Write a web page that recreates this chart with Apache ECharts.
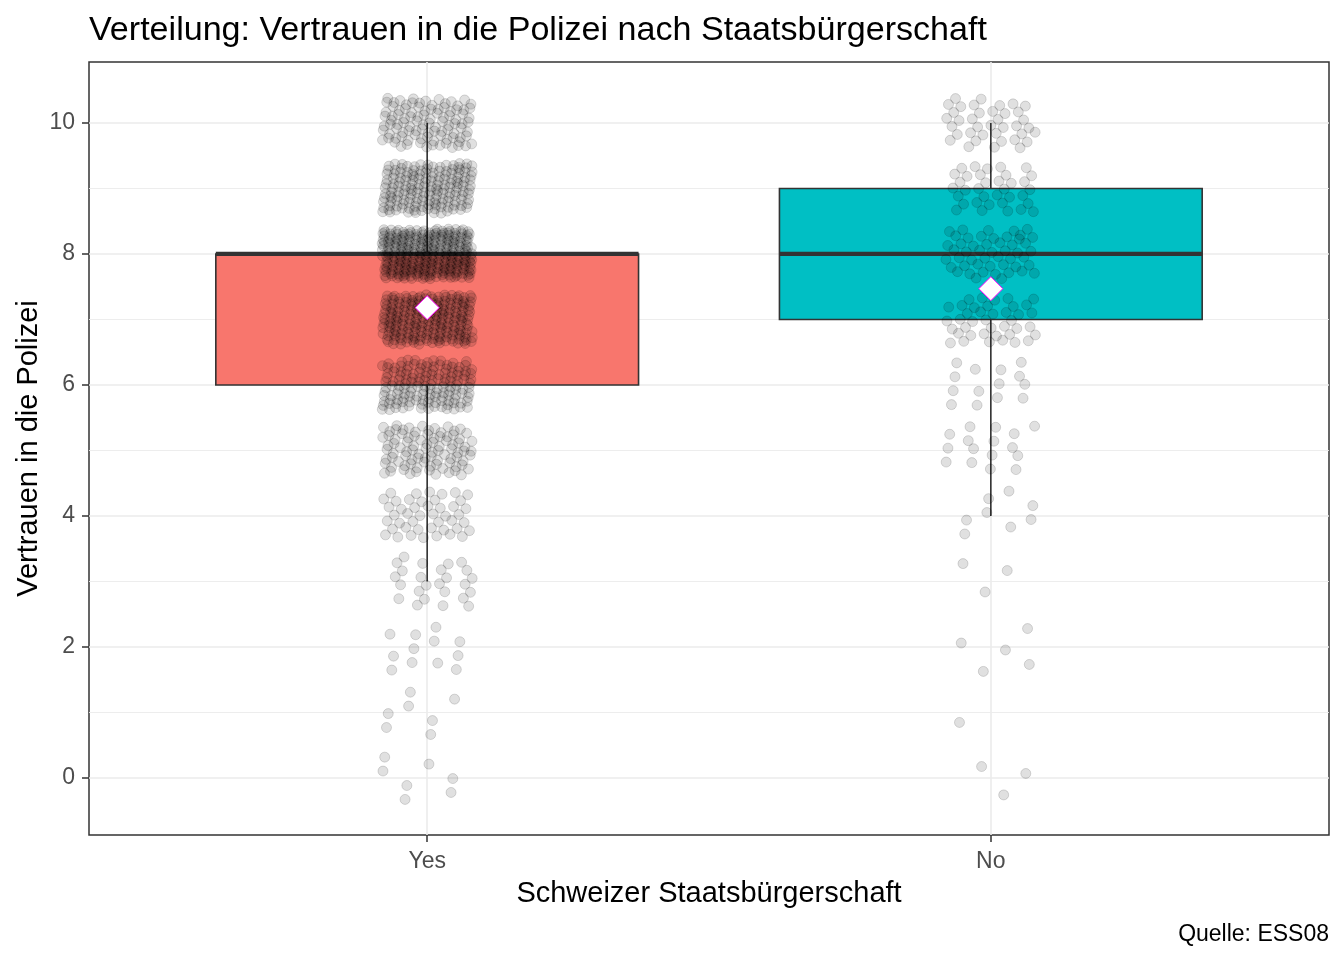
<!DOCTYPE html>
<html>
<head>
<meta charset="utf-8">
<script src="https://cdn.jsdelivr.net/npm/echarts@6/dist/echarts.min.js"></script>
<style>
html,body{margin:0;padding:0;background:#fff;}
#chart{width:1344px;height:960px;}
</style>
</head>
<body>
<div id="chart"></div>
<script>
// ---------- data ----------
const categories = ['Yes', 'No'];
const scoreLevels = [0, 1, 2, 3, 4, 5, 6, 7, 8, 9, 10];
// number of respondents at each score level
const countsYes = [7, 7, 12, 25, 45, 90, 140, 220, 290, 160, 100];
const countsNo  = [3, 1, 5, 3, 8, 16, 14, 40, 50, 35, 38];
// box statistics: [lower whisker, Q1, median, Q3, upper whisker]
const boxYes = [3, 6, 8, 8, 10];
const boxNo  = [4, 7, 8, 9, 10];
const meanYes = 7.18;
const meanNo  = 7.47;
const yTickValues = [0, 2, 4, 6, 8, 10];
const yMinorValues = [1, 3, 5, 7, 9];
const xTickValues = [1, 2];

// ---------- styling / layout ----------
const boxColors = ['#F8766D', '#00BFC4'];
const FONT = 'Liberation Sans, Arial, sans-serif';
const JW = 0.08, JH = 0.38; // jitter half-width / half-height (display only)

function frac(v) { return v - Math.floor(v); }
// deterministic low-discrepancy jitter layout around each integer value
function jitter(center, counts, start) {
  const pts = [];
  let i = start;
  counts.forEach((c, idx) => {
    const v = scoreLevels[idx];
    for (let k = 0; k < c; k++) {
      i++;
      const u = frac(0.5 + i * 0.7548776662);
      const w = frac(0.5 + i * 0.5698402910);
      pts.push([center + (u - 0.5) * 2 * JW, v + (w - 0.5) * 2 * JH]);
    }
  });
  return pts;
}
const points = jitter(1, countsYes, 0).concat(jitter(2, countsNo, 3000));

const boxData = [
  [1].concat(boxYes, [0]),
  [2].concat(boxNo, [1])
];

const gridLines = [];
yTickValues.forEach(v => gridLines.push({ yAxis: v, lineStyle: { width: 1.6 } }));
yMinorValues.forEach(v => gridLines.push({ yAxis: v, lineStyle: { width: 0.9 } }));
xTickValues.forEach(v => gridLines.push({ xAxis: v, lineStyle: { width: 1.6 } }));

const chart = echarts.init(document.getElementById('chart'), null, { renderer: 'canvas' });
chart.setOption({
  animation: false,
  backgroundColor: '#fff',
  textStyle: { fontFamily: FONT },
  title: [
    { text: 'Verteilung: Vertrauen in die Polizei nach Staatsbürgerschaft',
      left: 84, top: 9,
      textStyle: { fontFamily: FONT, fontSize: 34.1, fontWeight: 'normal', color: '#000' } },
    { text: 'Quelle: ESS08', right: 10, bottom: 9,
      textStyle: { fontFamily: FONT, fontSize: 23, fontWeight: 'normal', color: '#000' } }
  ],
  grid: { left: 89, right: 15, top: 62, bottom: 125, show: true,
          borderColor: '#333', borderWidth: 1.5, backgroundColor: 'transparent' },
  xAxis: {
    type: 'value', min: 0.4, max: 2.6, position: 'bottom',
    name: 'Schweizer Staatsbürgerschaft', nameLocation: 'middle', nameGap: 44,
    nameTextStyle: { fontFamily: FONT, fontSize: 29, color: '#000' },
    axisLine: { show: false, onZero: false },
    axisTick: { show: true, inside: false, customValues: xTickValues, length: 7, lineStyle: { color: '#333', width: 1.5 } },
    axisLabel: { customValues: xTickValues, formatter: v => categories[Math.round(v) - 1] || '',
                 fontFamily: FONT, fontSize: 23, color: '#4D4D4D', margin: 15 },
    splitLine: { show: false }
  },
  yAxis: {
    type: 'value', min: -0.87, max: 10.93,
    name: 'Vertrauen in die Polizei', nameLocation: 'middle', nameGap: 46, nameMoveOverlap: false,
    nameTextStyle: { fontFamily: FONT, fontSize: 29, color: '#000' },
    axisLine: { show: false, onZero: false },
    axisTick: { show: true, customValues: yTickValues, length: 7, lineStyle: { color: '#333', width: 1.5 } },
    axisLabel: { customValues: yTickValues, fontFamily: FONT, fontSize: 23, color: '#4D4D4D', margin: 14 },
    splitLine: { show: false }
  },
  series: [
    {
      type: 'custom', z: 2,
      data: boxData,
      renderItem: function (params, api) {
        const x = api.value(0);
        const lo = api.value(1), q1 = api.value(2), med = api.value(3), q3 = api.value(4), hi = api.value(5);
        const idx = api.value(6);
        const half = 0.375;
        const tl = api.coord([x - half, q3]);
        const br = api.coord([x + half, q1]);
        const cx = api.coord([x, med])[0];
        const yLo = api.coord([x, lo])[1];
        const yHi = api.coord([x, hi])[1];
        const yMed = api.coord([x, med])[1];
        return {
          type: 'group',
          children: [
            { type: 'line', shape: { x1: cx, y1: tl[1], x2: cx, y2: yHi }, style: { stroke: '#333', lineWidth: 1.6 } },
            { type: 'line', shape: { x1: cx, y1: br[1], x2: cx, y2: yLo }, style: { stroke: '#333', lineWidth: 1.6 } },
            { type: 'rect', shape: { x: tl[0], y: tl[1], width: br[0] - tl[0], height: br[1] - tl[1] },
              style: { fill: boxColors[idx], stroke: '#333', lineWidth: 1.6 } },
            { type: 'line', shape: { x1: tl[0], y1: yMed, x2: br[0], y2: yMed }, style: { stroke: '#333', lineWidth: 4.2 } }
          ]
        };
      }
    },
    {
      type: 'scatter', z: 3,
      data: points,
      symbol: 'circle', symbolSize: 10,
      itemStyle: { color: 'rgba(0,0,0,0.12)', borderColor: 'rgba(0,0,0,0.14)', borderWidth: 1, opacity: 1 },
      silent: true,
      markLine: {
        z: 0, silent: true, symbol: 'none', animation: false,
        label: { show: false },
        lineStyle: { color: '#EBEBEB', type: 'solid', width: 1.6 },
        data: gridLines
      }
    },
    {
      type: 'scatter', z: 4,
      data: [[1, meanYes], [2, meanNo]],
      symbol: 'diamond', symbolSize: [24, 24],
      itemStyle: { color: '#fff', borderColor: '#FF00FF', borderWidth: 1, opacity: 1 },
      silent: true
    }
  ]
});
</script>
</body>
</html>
